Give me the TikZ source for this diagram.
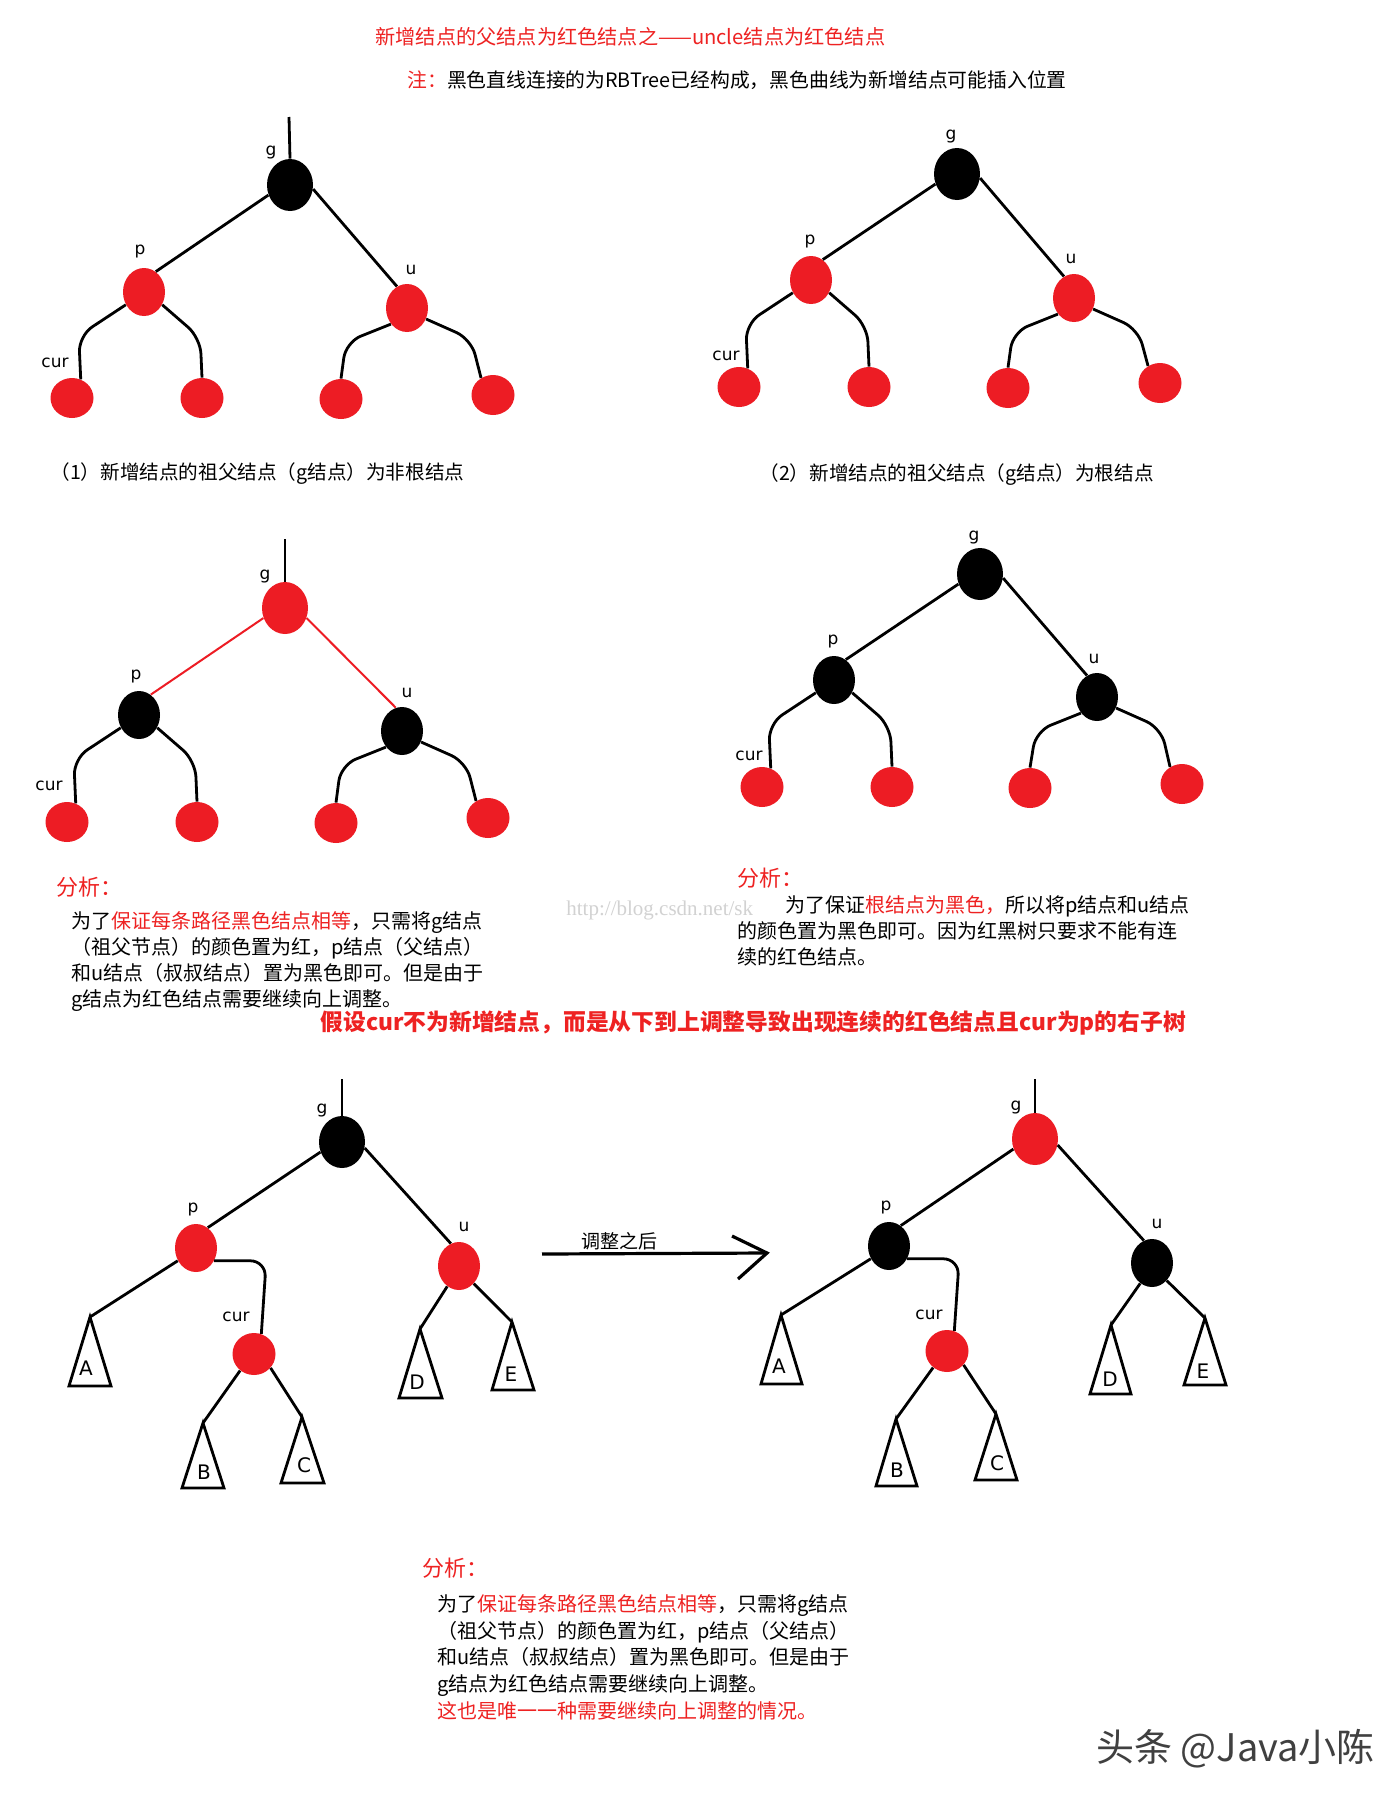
\documentclass[tikz,border=0pt]{standalone}
\usepackage{fontspec}
\setmainfont{Noto Sans CJK SC}
\setsansfont{DejaVu Sans}
\newfontfamily\urlfont{Liberation Serif}
\usepackage{xcolor}
\usetikzlibrary{shapes.geometric,positioning}

\definecolor{nodered}{RGB}{237,28,36}
\definecolor{textred}{RGB}{238,34,34}

\begin{document}
\begin{tikzpicture}[
    x=0.5pt, y=-0.5pt,
    rbnode/.style={ellipse, inner sep=0pt},
    rootnode/.style={rbnode, minimum width=23pt, minimum height=26pt},
    midnode/.style={rbnode, minimum width=21pt, minimum height=24pt},
    leafnode/.style={rbnode, minimum width=21.5pt, minimum height=20pt},
    curnode/.style={rbnode, minimum width=21.5pt, minimum height=21pt},
    blk/.style={fill=black},
    rd/.style={fill=nodered},
    edgeline/.style={draw, line width=1.4pt},
    redline/.style={draw, line width=1pt, nodered},
    curveline/.style={edgeline, rounded corners=8pt},
    lbl/.style={font=\sffamily\fontsize{8.5}{10}\selectfont, inner sep=0pt},
    sublbl/.style={font=\sffamily\fontsize{10}{12}\selectfont, inner sep=0pt},
    title/.style={font=\fontsize{10.1}{12}\selectfont, inner sep=0pt, anchor=west},
    caption/.style={font=\fontsize{9.8}{12}\selectfont, inner sep=0pt, anchor=west},
    body/.style={font=\fontsize{10}{13}\selectfont, align=left, inner sep=0pt, anchor=north west},
    head/.style={font=\fontsize{11}{13}\selectfont, text=textred, inner sep=0pt, anchor=west}
]
    \fill [white] (0,0) rectangle (1400,1800);
    \useasboundingbox (0,0) rectangle (1400,1800);

    % --- Headings ---
    \node [title, text=textred] (ttl) at (375,37) {新增结点的父结点为红色结点之——uncle结点为红色结点};
    \node [title, font=\fontsize{9.9}{12}\selectfont] (remark) at (407,80) {\textcolor{textred}{注：}黑色直线连接的为RBTree已经构成，黑色曲线为新增结点可能插入位置};

    % --- Tree 1: g is not the root ---
    \begin{scope}[shift={(290,185)}]
        \node [rootnode, blk] (t1g) at (0,0) {};
        \node [midnode, rd] (t1p) at (-146,107) {};
        \node [midnode, rd] (t1u) at (117,123) {};
        \node [leafnode, rd] (t1a) at (-218,213) {};
        \node [leafnode, rd] (t1b) at (-88,213) {};
        \node [leafnode, rd] (t1c) at (51,214) {};
        \node [leafnode, rd] (t1d) at (203,210) {};
        \node [lbl] (t1gl) at (-19,-32) {g};
        \node [lbl] (t1pl) at (-150,67) {p};
        \node [lbl] (t1ul) at (121,85) {u};
        \node [lbl] (t1cl) at (-235,178) {cur};
        \coordinate (t1top) at (-1,-68);
        \path [edgeline] (t1top) -- (t1g.north);
        \path [edgeline] (t1g.205) -- (t1p.60);
        \path [edgeline] (t1g.-10) -- (t1u.115);
        \path [curveline] (t1p.215) -- ++(-47,31) -- (t1a.65);
        \path [curveline] (t1p.-35) -- ++(38,33) -- (t1b.north);
        \path [curveline] (t1u.225) -- ++(-45,18) -- (t1c.north);
        \path [curveline] (t1u.-30) -- ++(45,20) -- (t1d.125);
    \end{scope}
    \node [caption] (cap1) at (50,474) {（1）新增结点的祖父结点（g结点）为非根结点};

    % --- Tree 2: g is the root ---
    \begin{scope}[shift={(957,174)}]
        \node [rootnode, blk] (t2g) at (0,0) {};
        \node [midnode, rd] (t2p) at (-146,106) {};
        \node [midnode, rd] (t2u) at (117,124) {};
        \node [leafnode, rd] (t2a) at (-218,213) {};
        \node [leafnode, rd] (t2b) at (-88,213) {};
        \node [leafnode, rd] (t2c) at (51,214) {};
        \node [leafnode, rd] (t2d) at (203,209) {};
        \node [lbl] (t2gl) at (-6,-37) {g};
        \node [lbl] (t2pl) at (-147,68) {p};
        \node [lbl] (t2ul) at (114,85) {u};
        \node [lbl] (t2cl) at (-231,182) {cur};
        \path [edgeline] (t2g.205) -- (t2p.60);
        \path [edgeline] (t2g.-10) -- (t2u.115);
        \path [curveline] (t2p.215) -- ++(-47,31) -- (t2a.65);
        \path [curveline] (t2p.-35) -- ++(38,33) -- (t2b.north);
        \path [curveline] (t2u.225) -- ++(-45,18) -- (t2c.north);
        \path [curveline] (t2u.-30) -- ++(45,20) -- (t2d.125);
    \end{scope}
    \node [caption] (cap2) at (759,475) {（2）新增结点的祖父结点（g结点）为根结点};

    % --- Tree 3: recoloured, g not the root ---
    \begin{scope}[shift={(285,608)}]
        \node [rootnode, rd] (t3g) at (0,0) {};
        \node [midnode, blk] (t3p) at (-146,107) {};
        \node [midnode, blk] (t3u) at (117,123) {};
        \node [leafnode, rd] (t3a) at (-218,214) {};
        \node [leafnode, rd] (t3b) at (-88,214) {};
        \node [leafnode, rd] (t3c) at (51,215) {};
        \node [leafnode, rd] (t3d) at (203,210) {};
        \node [lbl] (t3gl) at (-20,-32) {g};
        \node [lbl] (t3pl) at (-149,68) {p};
        \node [lbl] (t3ul) at (122,85) {u};
        \node [lbl] (t3cl) at (-236,178) {cur};
        \coordinate (t3top) at (0,-69);
        \path [edgeline] (t3top) -- (t3g.north);
        \path [redline] (t3g.205) -- (t3p.60);
        \path [redline] (t3g.-25) -- (t3u.105);
        \path [curveline] (t3p.215) -- ++(-47,31) -- (t3a.65);
        \path [curveline] (t3p.-35) -- ++(38,33) -- (t3b.north);
        \path [curveline] (t3u.225) -- ++(-45,18) -- (t3c.north);
        \path [curveline] (t3u.-30) -- ++(45,20) -- (t3d.125);
    \end{scope}

    % --- Tree 4: recoloured, g is the root ---
    \begin{scope}[shift={(980,574)}]
        \node [rootnode, blk] (t4g) at (0,0) {};
        \node [midnode, blk] (t4p) at (-146,106) {};
        \node [midnode, blk] (t4u) at (117,123) {};
        \node [leafnode, rd] (t4a) at (-218,213) {};
        \node [leafnode, rd] (t4b) at (-88,213) {};
        \node [leafnode, rd] (t4c) at (50,214) {};
        \node [leafnode, rd] (t4d) at (202,210) {};
        \node [lbl] (t4gl) at (-6,-37) {g};
        \node [lbl] (t4pl) at (-147,67) {p};
        \node [lbl] (t4ul) at (114,85) {u};
        \node [lbl] (t4cl) at (-231,182) {cur};
        \path [edgeline] (t4g.205) -- (t4p.60);
        \path [edgeline] (t4g.-10) -- (t4u.115);
        \path [curveline] (t4p.215) -- ++(-47,31) -- (t4a.65);
        \path [curveline] (t4p.-35) -- ++(38,33) -- (t4b.north);
        \path [curveline] (t4u.225) -- ++(-45,18) -- (t4c.north);
        \path [curveline] (t4u.-30) -- ++(45,20) -- (t4d.125);
    \end{scope}

    % --- Analysis of trees 3 and 4 ---
    \node [font=\urlfont\fontsize{10.5}{12}\selectfont, text=gray!35, inner sep=0pt, anchor=west] (csdn) at (566,910) {http://blog.csdn.net/sk};
    \node [head] (ana1h) at (56,887) {分析：};
    \node [body] (ana1) at (71,911) {为了\textcolor{textred}{保证每条路径黑色结点相等}，只需将g结点\\（祖父节点）的颜色置为红，p结点（父结点）\\和u结点（叔叔结点）置为黑色即可。但是由于\\g结点为红色结点需要继续向上调整。};
    \node [head] (ana2h) at (737,878) {分析：};
    \node [body] (ana2) at (737,895) {\hspace*{2.4em}为了保证\textcolor{textred}{根结点为黑色，}所以将p结点和u结点\\的颜色置为黑色即可。因为红黑树只要求不能有连\\续的红色结点。};
    \node [head, font=\bfseries\fontsize{11.4}{13}\selectfont] (case) at (320,1023) {假设cur不为新增结点，而是从下到上调整导致出现连续的红色结点且cur为p的右子树};

    % --- Tree 5: cur is the right child of p ---
    \begin{scope}[shift={(342,1142)}]
        \node [rootnode, blk] (t5g) at (0,0) {};
        \node [midnode, rd] (t5p) at (-146,106) {};
        \node [midnode, rd] (t5u) at (117,124) {};
        \node [curnode, rd] (t5cur) at (-88,212) {};
        \coordinate (t5A) at (-252,175);
        \coordinate (t5B) at (-139,281);
        \coordinate (t5C) at (-40,275);
        \coordinate (t5D) at (78,187);
        \coordinate (t5E) at (170,180);
        \path [edgeline] (t5A) -- ++(-21,69) -- ++(42,0) -- cycle;
        \path [edgeline] (t5B) -- ++(-21,65) -- ++(42,0) -- cycle;
        \path [edgeline] (t5C) -- ++(-21,66) -- ++(43,0) -- cycle;
        \path [edgeline] (t5D) -- ++(-21,69) -- ++(43,0) -- cycle;
        \path [edgeline] (t5E) -- ++(-20,68) -- ++(42,0) -- cycle;
        \node [sublbl] (t5Al) at (-256,226) {A};
        \node [sublbl] (t5Bl) at (-138,330) {B};
        \node [sublbl] (t5Cl) at (-38,323) {C};
        \node [sublbl] (t5Dl) at (75,240) {D};
        \node [sublbl] (t5El) at (169,232) {E};
        \node [lbl] (t5gl) at (-20,-32) {g};
        \node [lbl] (t5pl) at (-149,67) {p};
        \node [lbl] (t5ul) at (122,85) {u};
        \node [lbl] (t5cl) at (-106,175) {cur};
        \coordinate (t5top) at (0,-63);
        \path [edgeline] (t5top) -- (t5g.north);
        \path [edgeline] (t5g.205) -- (t5p.60);
        \path [edgeline] (t5g.-15) -- (t5u.110);
        \path [edgeline] (t5p.215) -- (t5A);
        \path [curveline] (t5p.-35) -- ++(52,0) -- (t5cur.70);
        \path [edgeline] (t5cur.230) -- (t5B);
        \path [edgeline] (t5cur.-40) -- (t5C);
        \path [edgeline] (t5u.240) -- (t5D);
        \path [edgeline] (t5u.-50) -- (t5E);
    \end{scope}

    % --- Arrow ---
    \coordinate (arrs) at (542,1254);
    \coordinate (arre) at (767,1253);
    \coordinate (arrh1) at (732,1236);
    \coordinate (arrh2) at (738,1279);
    \path [edgeline, line width=1.6pt] (arrs) -- (arre);
    \path [edgeline, line width=1.6pt] (arrh1) -- (arre) -- (arrh2);
    \node [caption, anchor=center, font=\fontsize{9.5}{12}\selectfont] (arrlbl) at (619,1241) {调整之后};

    % --- Tree 6: after recolouring ---
    \begin{scope}[shift={(1035,1139)}]
        \node [rootnode, rd] (t6g) at (0,0) {};
        \node [midnode, blk] (t6p) at (-146,107) {};
        \node [midnode, blk] (t6u) at (117,124) {};
        \node [curnode, rd] (t6cur) at (-88,212) {};
        \coordinate (t6A) at (-254,176);
        \coordinate (t6B) at (-139,280);
        \coordinate (t6C) at (-39,275);
        \coordinate (t6D) at (76,186);
        \coordinate (t6E) at (170,179);
        \path [edgeline] (t6A) -- ++(-20,69) -- ++(41,0) -- cycle;
        \path [edgeline] (t6B) -- ++(-20,67) -- ++(41,0) -- cycle;
        \path [edgeline] (t6C) -- ++(-21,66) -- ++(42,0) -- cycle;
        \path [edgeline] (t6D) -- ++(-21,69) -- ++(41,0) -- cycle;
        \path [edgeline] (t6E) -- ++(-21,67) -- ++(42,0) -- cycle;
        \node [sublbl] (t6Al) at (-256,227) {A};
        \node [sublbl] (t6Bl) at (-138,331) {B};
        \node [sublbl] (t6Cl) at (-38,324) {C};
        \node [sublbl] (t6Dl) at (75,240) {D};
        \node [sublbl] (t6El) at (168,232) {E};
        \node [lbl] (t6gl) at (-19,-32) {g};
        \node [lbl] (t6pl) at (-149,68) {p};
        \node [lbl] (t6ul) at (122,85) {u};
        \node [lbl] (t6cl) at (-106,176) {cur};
        \coordinate (t6top) at (0,-60);
        \path [edgeline] (t6top) -- (t6g.north);
        \path [edgeline] (t6g.205) -- (t6p.60);
        \path [edgeline] (t6g.-15) -- (t6u.110);
        \path [edgeline] (t6p.215) -- (t6A);
        \path [curveline] (t6p.-35) -- ++(52,0) -- (t6cur.70);
        \path [edgeline] (t6cur.230) -- (t6B);
        \path [edgeline] (t6cur.-40) -- (t6C);
        \path [edgeline] (t6u.240) -- (t6D);
        \path [edgeline] (t6u.-50) -- (t6E);
    \end{scope}

    % --- Analysis of trees 5 and 6 ---
    \node [head] (ana3h) at (422,1568) {分析：};
    \node [body, font=\fontsize{10}{13.4}\selectfont] (ana3) at (437,1594) {为了\textcolor{textred}{保证每条路径黑色结点相等}，只需将g结点\\（祖父节点）的颜色置为红，p结点（父结点）\\和u结点（叔叔结点）置为黑色即可。但是由于\\g结点为红色结点需要继续向上调整。\\\textcolor{textred}{这也是唯一一种需要继续向上调整的情况。}};

    % Watermark
    \node [inner sep=0pt, anchor=west, text=black!75, font=\fontsize{19}{22}\selectfont] (mark) at (1096,1749) {头条 @Java小陈};

\end{tikzpicture}
\end{document}
